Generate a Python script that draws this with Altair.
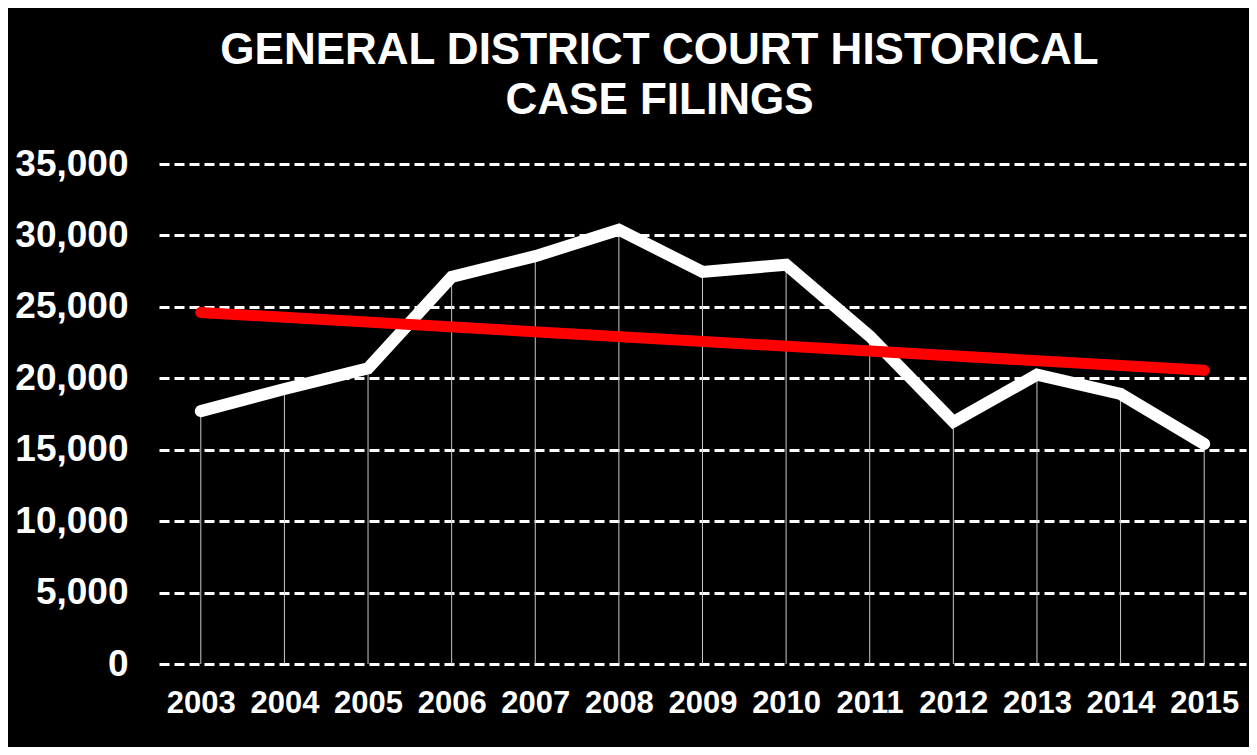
import altair as alt
import pandas as pd

years = [2003, 2004, 2005, 2006, 2007, 2008, 2009, 2010, 2011, 2012, 2013, 2014, 2015]
filings = [17700, 19250, 20700, 27100, 28550, 30400, 27450, 27950, 22950, 16950, 20250, 18900, 15400]
y_ticks = [0, 5000, 10000, 15000, 20000, 25000, 30000, 35000]
title_lines = ["GENERAL DISTRICT COURT HISTORICAL", "CASE FILINGS"]

df = pd.DataFrame({"year": years, "filings": filings})

FONT = "Liberation Sans"

x_enc = alt.X(
    "year:Q",
    scale=alt.Scale(domain=[years[0] - 0.5, years[-1] + 0.5], nice=False, zero=False),
    axis=alt.Axis(
        values=years, format="d", title=None, grid=False, domain=False, ticks=False,
        labelFont=FONT, labelFontSize=31, labelFontWeight="bold", labelColor="white",
        labelPadding=24,
    ),
)
y_enc = alt.Y(
    "filings:Q",
    scale=alt.Scale(domain=[0, 35000], nice=False),
    axis=alt.Axis(
        values=y_ticks, format=",d", title=None, domain=False, ticks=False,
        grid=True, gridColor="white", gridDash=[10, 5], gridWidth=3, gridOpacity=1,
        labelFont=FONT, labelFontSize=37, labelFontWeight="bold", labelColor="white",
        labelPadding=31,
    ),
)

base = alt.Chart(df)

drops = base.mark_rule(color="#c8c8c8", strokeWidth=1).encode(
    x=x_enc, y=alt.Y("filings:Q", scale=alt.Scale(domain=[0, 35000], nice=False)), y2=alt.datum(0)
)

line = base.mark_line(color="white", strokeWidth=12, strokeCap="round", strokeJoin="miter").encode(
    x=x_enc, y=y_enc
)

trend = base.transform_regression("year", "filings").mark_line(
    color="#ff0000", strokeWidth=11, strokeCap="round"
).encode(x=alt.X("year:Q"), y=alt.Y("filings:Q"))

chart = alt.layer(drops, line, trend).properties(
    width=1087,
    height=500,
    background="black",
    padding={"left": 151, "top": 156, "right": 3, "bottom": 83},
    autosize=alt.AutoSizeParams(type="none"),
    title=alt.TitleParams(
        text=title_lines, font=FONT, fontSize=44, fontWeight="bold", color="white",
        anchor="middle", frame="group", dx=-43, lineHeight=50, offset=22,
    ),
).configure_view(stroke=None)

chart.save("out.html", embed_options={"renderer": "svg", "actions": False})
